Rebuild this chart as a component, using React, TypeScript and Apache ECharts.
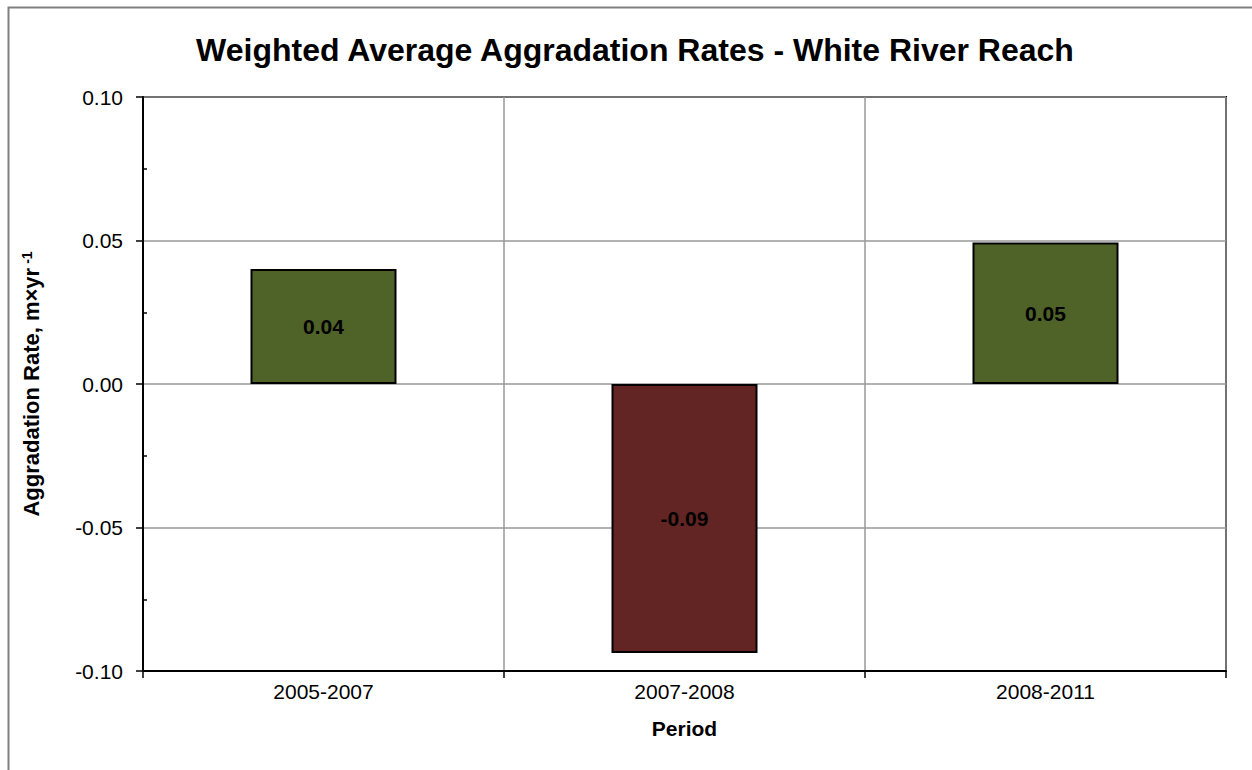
import React, { useEffect, useRef } from "react";
import * as echarts from "echarts";

const categories = ["2005-2007", "2007-2008", "2008-2011"];
const values = [0.0401, -0.0937, 0.0493];
const labels = ["0.04", "-0.09", "0.05"];
const barColors = ["#4F6228", "#632523", "#4F6228"];
const yMinorTicks = [-0.075, -0.025, 0.025, 0.075];

const FONT = "Liberation Sans, Arial, sans-serif";

export default function App() {
  const ref = useRef<HTMLDivElement>(null);
  useEffect(() => {
    if (!ref.current) return;
    const chart = echarts.init(ref.current, undefined, { renderer: "svg" });
    chart.setOption({
      animation: false,
      backgroundColor: "#ffffff",
      textStyle: { fontFamily: FONT },
      title: {
        text: "Weighted Average Aggradation Rates - White River Reach",
        left: 630,
        textAlign: "center",
        top: 29,
        textStyle: { fontFamily: FONT, fontSize: 32, fontWeight: "bold", color: "#000" },
      },
      graphic: [
        {
          type: "rect",
          shape: { x: 8.5, y: 7.5, width: 1400, height: 900 },
          style: { fill: "none", stroke: "#808080", lineWidth: 2 },
          silent: true,
        },
      ],
      grid: {
        left: 143,
        top: 97,
        width: 1083,
        height: 574,
        show: true,
        borderColor: "#000",
        borderWidth: 2,
        containLabel: false,
      },
      xAxis: {
        type: "category",
        data: categories,
        name: "Period",
        nameLocation: "middle",
        nameGap: 47,
        nameTextStyle: { fontFamily: FONT, fontSize: 21, fontWeight: "bold", color: "#000" },
        axisLine: { show: true, onZero: false, lineStyle: { color: "#000", width: 2 } },
        axisTick: { show: true, length: 7, lineStyle: { color: "#000", width: 1.5 } },
        axisLabel: { fontFamily: FONT, fontSize: 21, color: "#000", margin: 10 },
        splitLine: { show: true, lineStyle: { color: "#999", width: 1.5 } },
      },
      yAxis: [
        {
          type: "value",
          min: -0.1,
          max: 0.1,
          interval: 0.05,
          name: "{a|Aggradation Rate, m×yr}{s|-1}",
          nameLocation: "middle",
          nameRotate: 90,
          nameGap: 100,
          nameTextStyle: {
            rich: {
              a: { fontFamily: FONT, fontSize: 22, fontWeight: "bold", color: "#000" },
              s: { fontFamily: FONT, fontSize: 14, fontWeight: "bold", color: "#000", verticalAlign: "top", padding: [0, 0, 9, 4] },
            },
          },
          axisLine: { show: true, onZero: false, lineStyle: { color: "#000", width: 2 } },
          axisTick: { show: true, length: 7, lineStyle: { color: "#000", width: 1.5 } },
          axisLabel: {
            fontFamily: FONT,
            fontSize: 21,
            color: "#000",
            margin: 20,
            formatter: (v: number) => v.toFixed(2),
          },
          splitLine: { show: true, lineStyle: { color: "#999", width: 1.5 } },
        },
        {
          type: "value",
          min: -0.1,
          max: 0.1,
          position: "left",
          offset: 0,
          axisLine: { show: false },
          axisTick: { show: true, inside: true, length: 4, customValues: yMinorTicks, lineStyle: { color: "#000", width: 1.5 } },
          axisLabel: { show: false },
          splitLine: { show: false },
        },
      ],
      series: [
        {
          type: "bar",
          yAxisIndex: 0,
          barWidth: 146,
          data: values.map((v, i) => ({
            value: v,
            itemStyle: { color: barColors[i], borderColor: "#000", borderWidth: 2 },
          })),
          label: {
            show: true,
            position: "inside",
            fontFamily: FONT,
            fontSize: 21,
            fontWeight: "bold",
            color: "#000",
            formatter: (p: any) => labels[p.dataIndex],
          },
        },
      ],
    });
    return () => chart.dispose();
  }, []);
  return (
    <div
      ref={ref}
      style={{ position: "absolute", left: 0, top: 0, width: 1252, height: 770 }}
    />
  );
}
